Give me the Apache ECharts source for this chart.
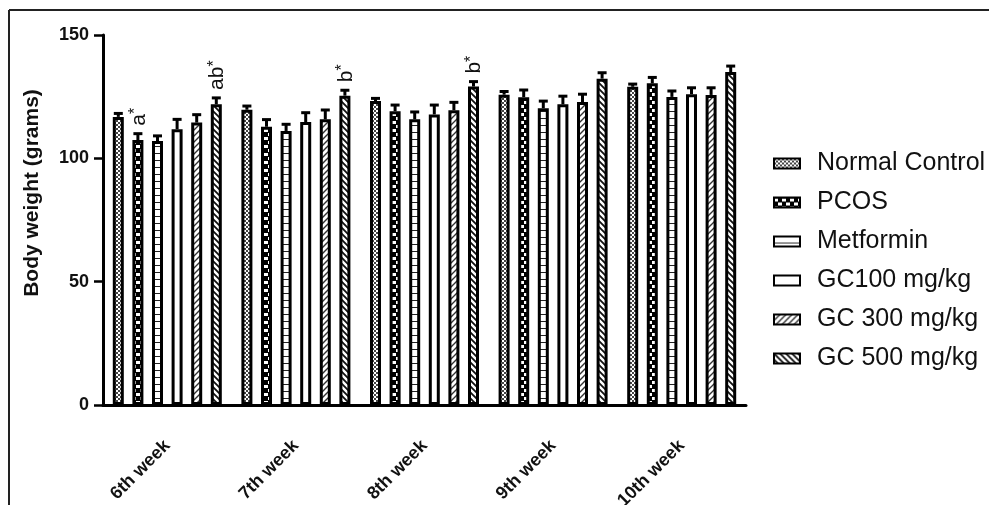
<!DOCTYPE html>
<html>
<head>
<meta charset="utf-8">
<script src="https://cdn.jsdelivr.net/npm/echarts@6/dist/echarts.min.js"></script>
<style>
  html, body { margin: 0; padding: 0; background: #fff; }
  #chart { width: 989px; height: 505px; }
</style>
</head>
<body>
<div id="chart"></div>
<script>
  // weeks on the x axis
  var weeks = ['6th week', '7th week', '8th week', '9th week', '10th week'];
  var groupNames = ['Normal Control', 'PCOS', 'Metformin', 'GC100 mg/kg', 'GC 300 mg/kg', 'GC 500 mg/kg'];

  // mean body weight (grams)
  var normalControl = [116.8, 119.7, 123.2, 125.8, 129.0];
  var pcos          = [107.4, 112.8, 119.1, 124.8, 130.4];
  var metformin     = [107.0, 111.1, 115.8, 120.3, 124.9];
  var gc100         = [111.8, 114.7, 117.8, 121.9, 126.0];
  var gc300         = [114.5, 115.8, 119.5, 122.8, 125.7];
  var gc500         = [121.9, 125.4, 129.1, 132.3, 135.0];

  // SEM
  var normalControlErr = [1.4, 1.5, 1.1, 1.3, 1.1];
  var pcosErr          = [2.6, 2.9, 2.5, 2.9, 2.4];
  var metforminErr     = [2.1, 2.7, 3.0, 2.9, 2.4];
  var gc100Err         = [4.0, 3.8, 3.8, 3.3, 2.6];
  var gc300Err         = [3.2, 3.8, 3.2, 3.2, 2.9];
  var gc500Err         = [2.6, 2.2, 2.0, 2.4, 2.4];

  // significance letters: [week index, group index, letters]
  var annotations = [[0, 1, 'a'], [0, 5, 'ab'], [1, 5, 'b'], [2, 5, 'b']];

  var yTicks = [0, 50, 100, 150];

  var means = [normalControl, pcos, metformin, gc100, gc300, gc500];
  var errs = [normalControlErr, pcosErr, metforminErr, gc100Err, gc300Err, gc500Err];

  var BAR_W = 11;
  var PITCH = 19.6;
  var BAR_GAP = PITCH / BAR_W - 1;
  var font = "'Liberation Sans', Arial, sans-serif";

  function makePattern(size, draw) {
    var c = document.createElement('canvas');
    c.width = size; c.height = size;
    var ctx = c.getContext('2d');
    ctx.fillStyle = '#fff';
    ctx.fillRect(0, 0, size, size);
    draw(ctx, size);
    return { image: c, repeat: 'repeat' };
  }

  var patterns = [
    // fine checker
    makePattern(4, function (ctx) {
      ctx.fillStyle = '#444';
      ctx.fillRect(0, 0, 2, 2);
      ctx.fillRect(2, 2, 2, 2);
    }),
    // coarse checker
    makePattern(8, function (ctx) {
      ctx.fillStyle = '#000';
      ctx.fillRect(0, 0, 8, 8);
      ctx.fillStyle = '#fff';
      ctx.fillRect(0, 1, 4, 3);
      ctx.fillRect(4, 5, 4, 3);
    }),
    // horizontal lines
    makePattern(7, function (ctx) {
      ctx.fillStyle = '#222';
      ctx.fillRect(0, 6, 7, 1.2);
    }),
    // plain
    makePattern(14, function (ctx) {}),
    // forward diagonal
    makePattern(6, function (ctx, s) {
      ctx.strokeStyle = '#333';
      ctx.lineWidth = 1.4;
      ctx.beginPath();
      ctx.moveTo(-1, s + 1); ctx.lineTo(s + 1, -1);
      ctx.moveTo(-1, 1); ctx.lineTo(1, -1);
      ctx.moveTo(s - 1, s + 1); ctx.lineTo(s + 1, s - 1);
      ctx.stroke();
    }),
    // back diagonal
    makePattern(6, function (ctx, s) {
      ctx.strokeStyle = '#111';
      ctx.lineWidth = 1.8;
      ctx.beginPath();
      ctx.moveTo(-1, -1); ctx.lineTo(s + 1, s + 1);
      ctx.moveTo(s - 1, -1); ctx.lineTo(s + 1, 1);
      ctx.moveTo(-1, s - 1); ctx.lineTo(1, s + 1);
      ctx.stroke();
    })
  ];

  var series = groupNames.map(function (name, i) {
    return {
      name: name,
      type: 'bar',
      data: means[i],
      barWidth: BAR_W,
      barGap: (BAR_GAP * 100) + '%',
      itemStyle: { color: patterns[i], borderColor: '#000', borderWidth: 3 },
      emphasis: { disabled: true }
    };
  });

  var errData = [];
  for (var g = 0; g < groupNames.length; g++) {
    for (var w = 0; w < weeks.length; w++) {
      errData.push([w, g, means[g][w], errs[g][w]]);
    }
  }
  var annoLookup = {};
  annotations.forEach(function (a) { annoLookup[a[0] + '_' + a[1]] = a[2]; });

  series.push({
    type: 'custom',
    name: 'sem',
    data: errData,
    encode: { x: 0, y: 2 },
    z: 5,
    silent: true,
    renderItem: function (params, api) {
      var w = api.value(0), g = api.value(1), m = api.value(2), e = api.value(3);
      var base = api.coord([w, m]);
      var topY = api.coord([w, m + e])[1];
      var x = base[0] + (g - 2.5) * PITCH;
      var children = [
        { type: 'line', shape: { x1: x, y1: base[1], x2: x, y2: topY }, style: { stroke: '#000', lineWidth: 3 } },
        { type: 'line', shape: { x1: x - 4.5, y1: topY, x2: x + 4.5, y2: topY }, style: { stroke: '#000', lineWidth: 3 } }
      ];
      var letters = annoLookup[w + '_' + g];
      if (letters) {
        children.push({
          type: 'text',
          x: x + 1,
          y: topY - 8,
          rotation: Math.PI / 2,
          style: {
            text: '{m|' + letters + '}{s|*}',
            align: 'left',
            verticalAlign: 'middle',
            fill: '#111',
            rich: {
              m: { fontSize: 21, fontFamily: font, fill: '#111', lineHeight: 22 },
              s: { fontSize: 16, fontFamily: font, fill: '#111', verticalAlign: 'top', lineHeight: 22, padding: [0, 0, 10, 0] }
            }
          }
        });
      }
      return { type: 'group', children: children };
    }
  });

  var chart = echarts.init(document.getElementById('chart'), null, { renderer: 'canvas' });
  chart.setOption({
    backgroundColor: '#fff',
    animation: false,
    graphic: [
      { type: 'line', shape: { x1: 9, y1: 10, x2: 989, y2: 10 }, style: { stroke: '#222', lineWidth: 2 } },
      { type: 'line', shape: { x1: 9, y1: 10, x2: 9, y2: 505 }, style: { stroke: '#222', lineWidth: 2 } }
    ],
    grid: { left: 103, right: 243, top: 35, bottom: 100, containLabel: false, outerBoundsMode: 'none' },
    legend: {
      data: groupNames,
      orient: 'vertical',
      left: 773,
      top: 151,
      padding: 0,
      icon: 'rect',
      itemWidth: 26,
      itemHeight: 10,
      itemGap: 14,
      textStyle: { fontFamily: font, fontSize: 25, color: '#111', padding: [0, 0, 0, 12] },
      selectedMode: false
    },
    xAxis: {
      type: 'category',
      data: weeks,
      axisLine: { lineStyle: { color: '#000', width: 3 } },
      axisTick: { alignWithLabel: true, length: 7, lineStyle: { color: '#000', width: 2.5 } },
      axisLabel: { rotate: 45, margin: 38, fontFamily: font, fontSize: 18, fontWeight: 'bold', color: '#111' }
    },
    yAxis: {
      type: 'value',
      min: yTicks[0],
      max: yTicks[yTicks.length - 1],
      interval: 50,
      name: 'Body weight (grams)',
      nameLocation: 'middle',
      nameGap: 60,
      nameTextStyle: { fontFamily: font, fontSize: 21, fontWeight: 'bold', color: '#111', padding: [0, 0, 0, 54] },
      axisLine: { show: true, lineStyle: { color: '#000', width: 3 } },
      axisTick: { show: true, length: 9, lineStyle: { color: '#000', width: 2.5 } },
      axisLabel: { fontFamily: font, fontSize: 18, fontWeight: 'bold', color: '#111', margin: 14 },
      splitLine: { show: false }
    },
    series: series
  });
</script>
</body>
</html>
